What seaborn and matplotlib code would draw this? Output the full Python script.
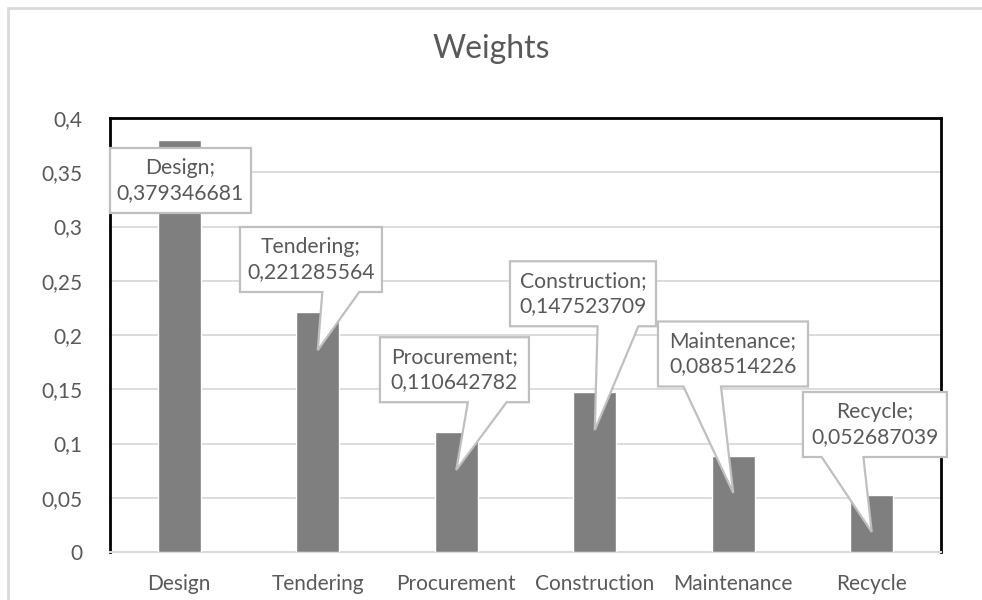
import matplotlib
matplotlib.use("Agg")
import matplotlib.pyplot as plt
import seaborn as sns
import pandas as pd
from matplotlib.patches import Polygon, Rectangle

# ---- data ----
categories = ["Design", "Tendering", "Procurement", "Construction", "Maintenance", "Recycle"]
weights = [0.379346681, 0.221285564, 0.110642782, 0.147523709, 0.088514226, 0.052687039]
y_ticks = [0, 0.05, 0.1, 0.15, 0.2, 0.25, 0.3, 0.35, 0.4]
y_tick_labels = ["0", "0,05", "0,1", "0,15", "0,2", "0,25", "0,3", "0,35", "0,4"]
title = "Weights"

# ---- callout layout (box centre in data units, box width px, tail tip y, tail base fractions) ----
callout_cx = [0.009, 0.951, 1.987, 2.915, 3.998, 5.023]
callout_cy = [0.3424, 0.2696, 0.168, 0.238, 0.1825, 0.1175]
callout_wpx = [141, 142, 149, 146, 150, 144]
tail_tip_y = [None, 0.186, 0.0756, 0.1124, 0.0544, 0.0184]
tail_base = [None, (0.58, 0.84), (0.59, 0.85), (0.60, 0.88), (0.17, 0.42), (0.13, 0.42)]

W, H = 982, 600
TXT = "#595959"
sns.set_theme(style="white")
plt.rcParams["font.family"] = ["Lato", "DejaVu Sans"]

fig = plt.figure(figsize=(W / 100, H / 100), dpi=100)
ax_l, ax_r, ax_t, ax_b = 110, 941, 118, 552
ax = fig.add_axes([ax_l / W, 1 - ax_b / H, (ax_r - ax_l) / W, (ax_b - ax_t) / H])

df = pd.DataFrame({"category": categories, "weight": weights})
sns.barplot(data=df, x="category", y="weight", color="#7F7F7F", saturation=1,
            width=0.31, ax=ax, zorder=3)

ax.set_xlim(-0.5, len(categories) - 0.5)
ax.set_ylim(0, 0.4)
ax.set_yticks(y_ticks)
ax.set_yticklabels(y_tick_labels)
ax.set_xlabel("")
ax.set_ylabel("")
ax.yaxis.grid(True, color="#D9D9D9", linewidth=1.3, zorder=0)
ax.set_axisbelow(True)
ax.tick_params(axis="both", length=0, labelsize=15, labelcolor=TXT)
ax.tick_params(axis="y", pad=20)
ax.tick_params(axis="x", pad=16)
for s in ["left", "top", "right"]:
    ax.spines[s].set_color("black")
    ax.spines[s].set_linewidth(2)
ax.spines["bottom"].set_color("#D9D9D9")
ax.spines["bottom"].set_linewidth(1.5)

fig.text(0.5, 1 - 49 / H, title, ha="center", va="center", fontsize=23, color=TXT)

# outer chart border
fig.patches.append(Rectangle((8 / W, -0.1), 1.2, 1 - 8 / H + 0.1, transform=fig.transFigure,
                             fill=False, edgecolor="#D9D9D9", linewidth=2))

# callouts
px_x = (ax_r - ax_l) / len(categories)   # px per category unit
px_y = (ax_b - ax_t) / 0.4               # px per data unit
hh = 32.5 / px_y
for i, (cat, v) in enumerate(zip(categories, weights)):
    cx, cy = callout_cx[i], callout_cy[i]
    hw = callout_wpx[i] / 2 / px_x
    l, r, b, t = cx - hw, cx + hw, cy - hh, cy + hh
    pts = [(l, t), (r, t), (r, b)]
    if tail_tip_y[i] is not None:
        f1, f2 = tail_base[i]
        pts += [(l + f2 * 2 * hw, b), (i, tail_tip_y[i]), (l + f1 * 2 * hw, b)]
    pts += [(l, b)]
    ax.add_patch(Polygon(pts, closed=True, facecolor="white", edgecolor="#BFBFBF",
                         linewidth=1.6, zorder=5, clip_on=False, joinstyle="miter"))
    label = f"{cat};\n" + f"{v:.9f}".replace(".", ",")
    ax.text(cx, cy, label, ha="center", va="center", fontsize=15.2, color=TXT,
            linespacing=1.3, zorder=6)

fig.savefig("out.png", dpi=100)
